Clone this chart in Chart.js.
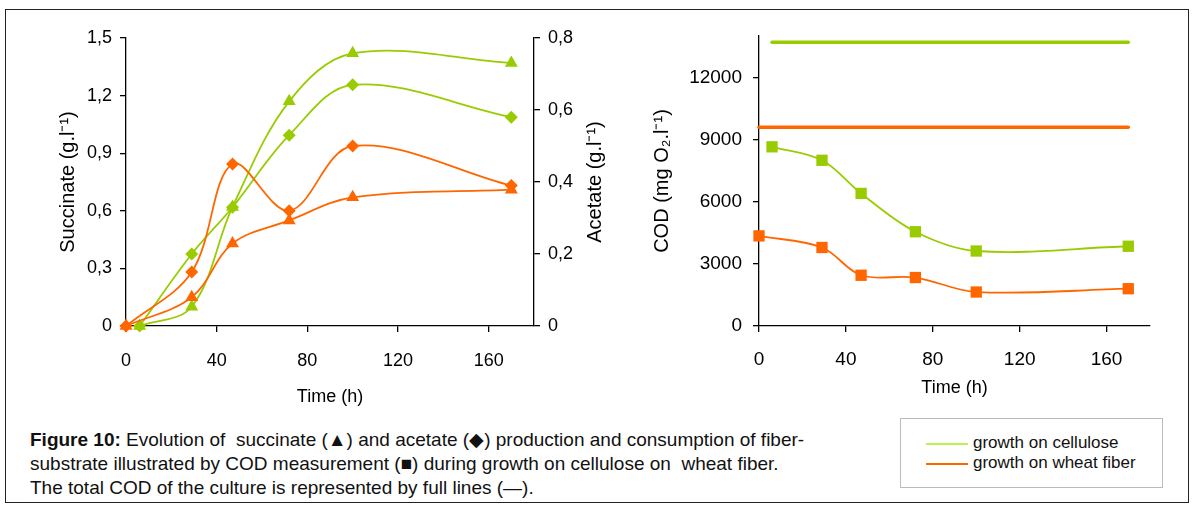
<!DOCTYPE html>
<html lang="en">
<head>
<meta charset="UTF-8">
<title>Figure 10 - succinate, acetate and COD</title>
<script src="https://cdn.jsdelivr.net/npm/chart.js"></script>
<style>
  body { margin: 0; background: #fff; font-family: "Liberation Sans", Arial, sans-serif; }
  #page { position: relative; width: 1193px; height: 506px; }
  #frame { position: absolute; left: 5px; top: 9px; width: 1182px; height: 492px; border: 1.5px solid #222; }
  canvas { position: absolute; top: 0; }
  #leftChart { left: 0; }
  #rightChart { left: 620px; }
  #caption { position: absolute; left: 30px; top: 428px; font-size: 19px; line-height: 24px; color: #111; white-space: nowrap; }
  #legend { position: absolute; left: 900px; top: 418px; width: 261px; height: 68px; border: 1.5px solid #bbb; background: #fff; }
  .item { position: absolute; left: 72px; font-size: 17px; color: #111; line-height: 20px; white-space: nowrap; }
  .swatch { position: absolute; left: 25px; width: 42px; height: 2px; }
</style>
</head>
<body>
<div id="page">
  <div id="frame"></div>
  <canvas id="leftChart" width="620" height="420"></canvas>
  <canvas id="rightChart" width="573" height="420"></canvas>

  <div id="caption">
    <b>Figure 10:</b> Evolution of&nbsp; succinate (▲) and acetate (◆) production and consumption of fiber-<br>
    substrate illustrated by COD measurement (■) during growth on cellulose on&nbsp; wheat fiber.<br>
    The total COD of the culture is represented by full lines (—).
  </div>

  <div id="legend">
    <div class="swatch" style="top:24px; background:#bbf050;"></div>
    <div class="item" style="top:14px;">growth on cellulose</div>
    <div class="swatch" style="top:44px; background:#ff6600;"></div>
    <div class="item" style="top:34px;">growth on wheat fiber</div>
  </div>
</div>

<script>
  // sampling times (h)
  const timeCellulose = [6, 29, 47, 72, 100, 170];
  const timeWheat = [0, 29, 47, 72, 100, 170];

  // succinate (g/l), left axis - triangles
  const succinateCellulose = [0, 0.10, 0.62, 1.17, 1.42, 1.37];
  const succinateWheat = [0, 0.15, 0.43, 0.55, 0.67, 0.71];

  // acetate (g/l), right axis - diamonds
  const acetateCellulose = [0, 0.20, 0.33, 0.53, 0.67, 0.58];
  const acetateWheat = [0, 0.15, 0.45, 0.32, 0.50, 0.39];

  // COD (mg O2/l) - squares, and total COD of the culture (full lines)
  const codCellulose = [8650, 8000, 6400, 4550, 3620, 3850];
  const codWheat = [4350, 3790, 2450, 2340, 1640, 1800];
  const totalCodCellulose = 13700;
  const totalCodWheat = 9600;

  // tick labels
  const timeTicks = [0, 40, 80, 120, 160];
  const succinateTicks = [0, 0.3, 0.6, 0.9, 1.2, 1.5];
  const acetateTicks = [0, 0.2, 0.4, 0.6, 0.8];
  const codTicks = [0, 3000, 6000, 9000, 12000];

  const GREEN = '#99cc00';
  const ORANGE = '#ff6600';
  const FONT = '"Liberation Sans", Arial, sans-serif';

  function points(times, values) {
    return times.map((t, i) => ({ x: t, y: values[i] }));
  }

  function flatLine(times, value) {
    return [{ x: times[0], y: value }, { x: times[times.length - 1], y: value }];
  }

  function comma(v) {
    return v === 0 ? '0' : Number(v).toFixed(1).replace('.', ',');
  }

  function series(data, color, shape, radius, axis) {
    return {
      data: data,
      borderColor: color,
      backgroundColor: color,
      borderWidth: 1.8,
      pointStyle: shape,
      pointRadius: radius,
      pointHoverRadius: radius,
      pointBorderWidth: 0,
      tension: 0.35,
      clip: false,
      yAxisID: axis
    };
  }

  // black axis line with outward ticks, no grid
  function axis(extra, fontSize, ticks) {
    return Object.assign({
      type: 'linear',
      border: { display: true, color: '#000', width: 1.3 },
      grid: { drawOnChartArea: false, drawTicks: true, tickLength: 6, color: '#000', lineWidth: 1.3 },
      ticks: Object.assign({ color: '#000', maxRotation: 0, autoSkip: false, font: { family: FONT, size: fontSize } }, ticks)
    }, extra);
  }

  function title(text, size, padding) {
    return { display: true, text: text, color: '#000', font: { family: FONT, size: size }, padding: padding };
  }

  const fixWidth = w => scale => { scale.width = w; };
  const fixHeight = h => scale => { scale.height = h; };
  const useTicks = values => scale => { scale.ticks = values.map(v => ({ value: v })); };

  // right-hand title reads bottom to top like the left one
  const acetateTitle = {
    id: 'acetateTitle',
    afterDraw(chart) {
      const ctx = chart.ctx;
      const s = chart.scales.yAce;
      ctx.save();
      ctx.translate(s.left + 61, (chart.chartArea.top + chart.chartArea.bottom) / 2);
      ctx.rotate(-Math.PI / 2);
      ctx.font = '20px ' + FONT;
      ctx.fillStyle = '#000';
      ctx.textAlign = 'center';
      ctx.textBaseline = 'middle';
      ctx.fillText('Acetate (g.l⁻¹)', 0, 0);
      ctx.restore();
    }
  };

  Chart.defaults.animation = false;
  Chart.defaults.plugins.legend.display = false;
  Chart.defaults.plugins.tooltip.enabled = false;

  // left chart: succinate and acetate
  new Chart(document.getElementById('leftChart'), {
    type: 'line',
    data: {
      datasets: [
        series(points(timeWheat, succinateWheat), ORANGE, 'triangle', 7.5, 'ySucc'),
        series(points(timeWheat, acetateWheat), ORANGE, 'rectRot', 6.5, 'yAce'),
        series(points(timeCellulose, succinateCellulose), GREEN, 'triangle', 7.5, 'ySucc'),
        series(points(timeCellulose, acetateCellulose), GREEN, 'rectRot', 6.5, 'yAce')
      ]
    },
    options: {
      responsive: false,
      layout: { padding: { top: 38, left: 0, right: 0, bottom: 0 } },
      scales: {
        x: axis({
          min: 0, max: 180,
          afterBuildTicks: useTicks(timeTicks),
          afterFit: fixHeight(94),
          title: title('Time (h)', 18, { top: 0, bottom: 12 })
        }, 18, { padding: 18 }),
        ySucc: axis({
          position: 'left', min: 0, max: 1.5,
          afterBuildTicks: useTicks(succinateTicks),
          afterFit: fixWidth(126),
          title: title('Succinate (g.l⁻¹)', 20, { top: 56, bottom: 0 })
        }, 18, { padding: 8, callback: comma }),
        yAce: axis({
          position: 'right', min: 0, max: 0.8,
          afterBuildTicks: useTicks(acetateTicks),
          afterFit: fixWidth(86)
        }, 18, { padding: 8, callback: comma })
      }
    },
    plugins: [acetateTitle]
  });

  // right chart: COD
  new Chart(document.getElementById('rightChart'), {
    type: 'line',
    data: {
      datasets: [
        series(points(timeWheat, codWheat), ORANGE, 'rect', 8, 'y'),
        series(points(timeCellulose, codCellulose), GREEN, 'rect', 8, 'y'),
        Object.assign(series(flatLine(timeWheat, totalCodWheat), ORANGE, 'circle', 0, 'y'),
          { borderWidth: 3.5, borderCapStyle: 'round' }),
        Object.assign(series(flatLine(timeCellulose, totalCodCellulose), GREEN, 'circle', 0, 'y'),
          { borderWidth: 3.5, borderCapStyle: 'round' })
      ]
    },
    options: {
      responsive: false,
      layout: { padding: { top: 36, left: 0, right: 43, bottom: 0 } },
      scales: {
        x: axis({
          min: 0, max: 180,
          afterBuildTicks: useTicks(timeTicks),
          afterFit: fixHeight(94),
          title: title('Time (h)', 18, { top: 0, bottom: 21 })
        }, 19, { padding: 16 }),
        y: axis({
          position: 'left', min: 0, max: 14000,
          afterBuildTicks: useTicks(codTicks),
          afterFit: fixWidth(139),
          title: title('COD (mg O₂.l⁻¹)', 20, { top: 30, bottom: 0 })
        }, 19, { padding: 11, callback: v => String(v) })
      }
    }
  });
</script>
</body>
</html>
